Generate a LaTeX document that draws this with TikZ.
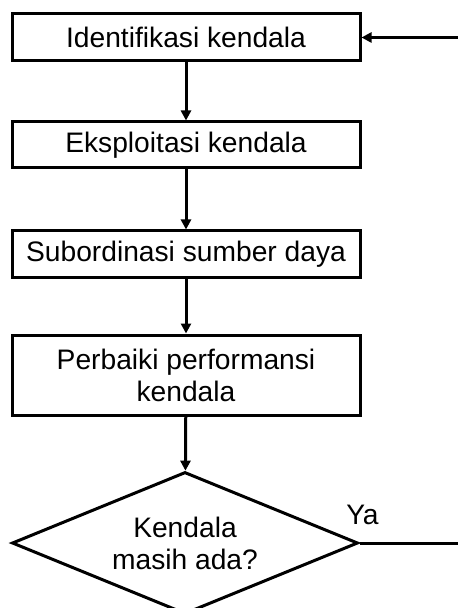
\documentclass[tikz,border=0pt]{standalone}
\usepackage{fontspec}
\setmainfont{Liberation Sans}
\usetikzlibrary{shapes.geometric,arrows.meta}

\begin{document}
\begin{tikzpicture}
[x=0.5pt,y=-0.5pt]
\tikzset{stepbox/.style={draw,line width=1.5pt,minimum width=174pt,inner sep=0pt,align=center,font=\fontsize{14.1}{16}\selectfont}}
\tikzset{decide/.style={diamond,draw,line width=1.5pt,aspect=2.44,minimum width=173pt,minimum height=71pt,inner sep=0pt,align=center,font=\fontsize{14.1}{16}\selectfont}}
\tikzset{flow/.style={line width=1.5pt,-{Triangle[length=5pt,width=5pt]}}}
\useasboundingbox (0,0) rectangle (458,608);
\node [stepbox,minimum height=23.5pt] (s1) at (186,37.5) {Identifikasi kendala};
\node [stepbox,minimum height=23pt] (s2) at (186,145) {Eksploitasi kendala};
\node [stepbox,minimum height=23.5pt] (s3) at (186,254.5) {Subordinasi sumber daya};
\node [stepbox,minimum height=40pt] (s4) at (186,375) {Perbaiki performansi\\kendala};
\node [decide] (d1) at (185,543) {Kendala\\masih ada?};
\coordinate (back) at (458,37.5);
\coordinate (ya) at (458,543);

\foreach \from/\to in {s1/s2,s2/s3,s3/s4,s4/d1}
	\draw [flow] (\from) -- (\to);
\draw [flow] (back) -- (s1);
\draw [line width=1.5pt] (d1.east) -- node [pos=0.03,above=5pt,font=\fontsize{14.1}{16}\selectfont] {Ya} (ya);

\end{tikzpicture}
\end{document}
